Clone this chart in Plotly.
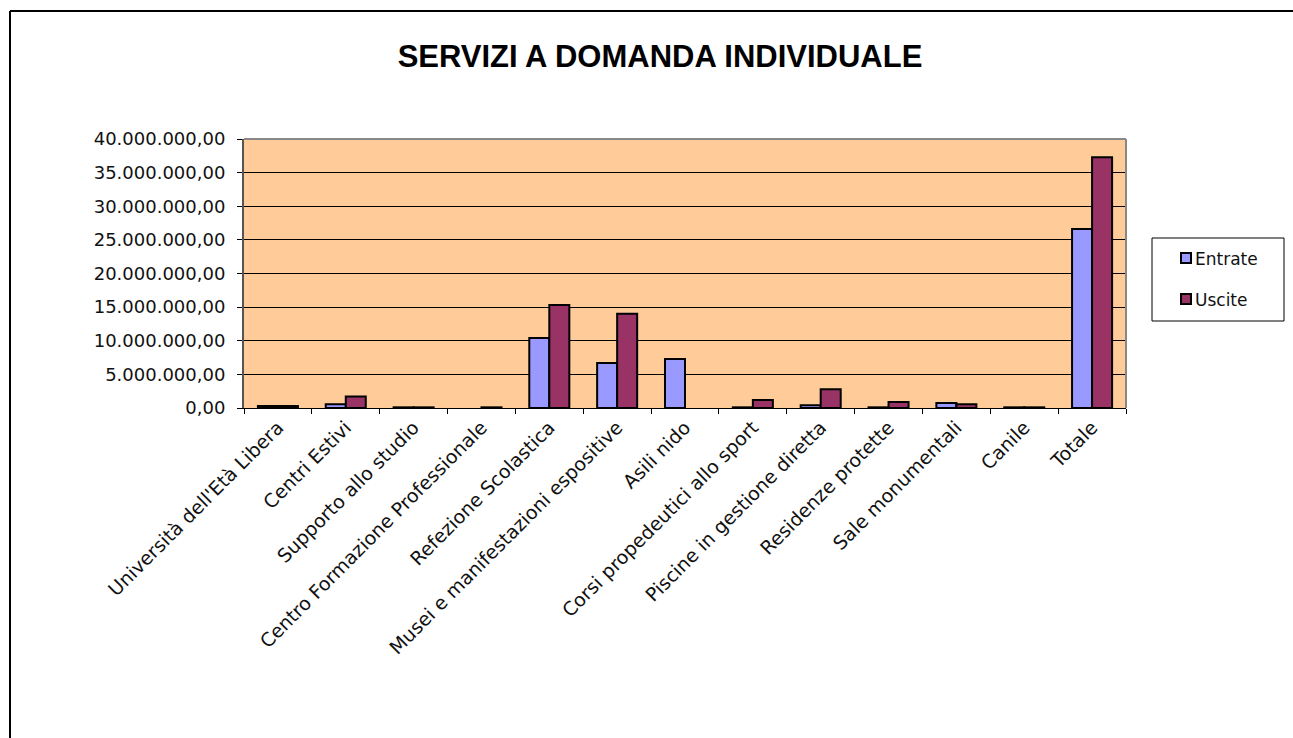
import plotly.graph_objects as go

categories = [
    "Università dell'Età Libera",
    "Centri Estivi",
    "Supporto allo studio",
    "Centro Formazione Professionale",
    "Refezione Scolastica",
    "Musei e manifestazioni espositive",
    "Asili nido",
    "Corsi propedeutici allo sport",
    "Piscine in gestione diretta",
    "Residenze protette",
    "Sale monumentali",
    "Canile",
    "Totale",
]
entrate = [300000, 550000, 100000, 0, 10400000, 6700000, 7300000,
           100000, 400000, 100000, 750000, 100000, 26600000]
uscite = [300000, 1700000, 100000, 100000, 15300000, 14000000, 0,
          1200000, 2800000, 900000, 550000, 100000, 37300000]

series_names = ["Entrate", "Uscite"]
series_colors = ["#9999FF", "#993366"]

W, H = 1293, 738
L, R, T, B = 244, 167, 139, 330
pw, ph = W - L - R, H - T - B


def px_x(p):
    return (p - L) / pw


def px_y(p):
    return (H - B - p) / ph


TITLE_FONT = "Liberation Sans, Arial, sans-serif"
FONT = "DejaVu Sans, Liberation Sans, sans-serif"
TXT = "#111111"

fig = go.Figure()
for name, vals, col in zip(series_names, [entrate, uscite], series_colors):
    # no outline on empty bars so nothing is drawn for zero values
    outline = [0 if v == 0 else 2 for v in vals]
    fig.add_trace(go.Bar(
        x=categories, y=vals, name=name,
        marker=dict(color=col, line=dict(color="black", width=outline)),
    ))

shapes = [
    # outer chart frame
    dict(type="line", xref="paper", yref="paper",
         x0=px_x(10), x1=px_x(W + 20), y0=px_y(11), y1=px_y(11),
         line=dict(color="black", width=2)),
    dict(type="line", xref="paper", yref="paper",
         x0=px_x(10), x1=px_x(10), y0=px_y(11), y1=px_y(H + 20),
         line=dict(color="black", width=2)),
    # plot area border (top and right)
    dict(type="line", xref="paper", yref="paper",
         x0=0, x1=1, y0=1, y1=1, line=dict(color="#888888", width=2)),
    dict(type="line", xref="paper", yref="paper",
         x0=1, x1=1, y0=0, y1=1, line=dict(color="#888888", width=2)),
    # legend box
    dict(type="rect", xref="paper", yref="paper",
         x0=px_x(1152), x1=px_x(1284), y0=px_y(321), y1=px_y(238),
         line=dict(color="black", width=1)),
]
annotations = []
# legend entries
for i, (name, col) in enumerate(zip(series_names, series_colors)):
    cy = 258 + 41 * i
    shapes.append(dict(
        type="rect", xref="paper", yref="paper",
        x0=px_x(1181), x1=px_x(1191), y0=px_y(cy + 5), y1=px_y(cy - 5),
        fillcolor=col, line=dict(color="black", width=2),
    ))
    annotations.append(dict(
        text=name, xref="paper", yref="paper",
        x=px_x(1193), y=px_y(cy + 1), xanchor="left", yanchor="middle",
        showarrow=False, font=dict(family=FONT, size=17, color=TXT),
    ))

fig.update_layout(
    width=W, height=H,
    margin=dict(l=L, r=R, t=T, b=B),
    paper_bgcolor="white",
    plot_bgcolor="#FFCC99",
    separators=",.",
    barmode="group",
    bargap=0.41,
    bargroupgap=0,
    showlegend=False,
    font=dict(family=FONT, size=18, color=TXT),
    title=dict(
        text="<b>SERVIZI A DOMANDA INDIVIDUALE</b>",
        x=px_x(660), xref="paper", xanchor="center",
        y=1 - 56 / H, yref="container", yanchor="middle",
        font=dict(family=TITLE_FONT, size=31, color="black"),
    ),
    xaxis=dict(
        tickangle=-45,
        tickson="boundaries",
        ticks="outside", ticklen=5, tickcolor="black",
        showline=True, linecolor="black", linewidth=1,
        showgrid=False,
        tickfont=dict(family=FONT, size=19, color=TXT),
    ),
    yaxis=dict(
        range=[0, 40000000], dtick=5000000, tick0=0,
        tickformat=",.2f",
        ticks="outside", ticklen=5, tickcolor="black",
        ticklabelstandoff=8,
        showline=True, linecolor="#555555", linewidth=2,
        showgrid=True, gridcolor="black", gridwidth=1,
        zeroline=False,
        tickfont=dict(family=FONT, size=18, color=TXT),
    ),
    shapes=shapes,
    annotations=annotations,
)

fig.write_html("out.html")
